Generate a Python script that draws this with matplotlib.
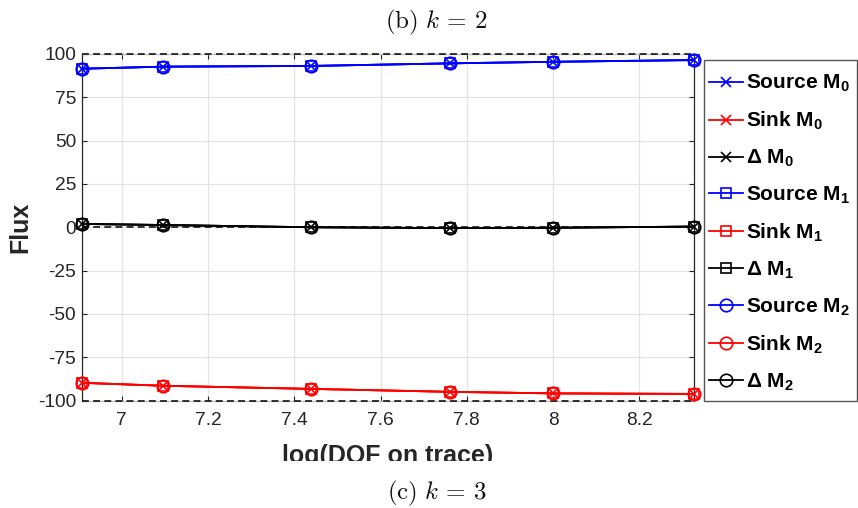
import matplotlib
matplotlib.use('Agg')
import matplotlib.pyplot as plt
from matplotlib.patches import Rectangle
from matplotlib.transforms import Bbox, TransformedBbox

# ---------------- data ----------------
log_dof = [6.9078, 7.0967, 7.4384, 7.7617, 8.0000, 8.3268]

source_m0 = [91.5, 92.7, 93.1, 94.6, 95.5, 96.5]
sink_m0 = [-89.8, -91.5, -93.3, -95.0, -95.9, -96.2]
delta_m0 = [1.9, 1.3, 0.0, -0.5, -0.3, 0.4]

source_m1 = [91.5, 92.7, 93.1, 94.6, 95.5, 96.5]
sink_m1 = [-89.8, -91.5, -93.3, -95.0, -95.9, -96.2]
delta_m1 = [1.9, 1.3, 0.0, -0.5, -0.3, 0.4]

source_m2 = [91.5, 92.7, 93.1, 94.6, 95.5, 96.5]
sink_m2 = [-89.8, -91.5, -93.3, -95.0, -95.9, -96.2]
delta_m2 = [1.9, 1.3, 0.0, -0.5, -0.3, 0.4]

ref_levels = [100, 0, -100]

x_ticks = [7.0, 7.2, 7.4, 7.6, 7.8, 8.0, 8.2]
x_tick_labels = ['7', '7.2', '7.4', '7.6', '7.8', '8', '8.2']
y_ticks = [-100, -75, -50, -25, 0, 25, 50, 75, 100]
y_tick_labels = ['-100', '-75', '-50', '-25', '0', '25', '50', '75', '100']

series_labels = [
    'Source M$_\\mathbf{0}$', 'Sink M$_\\mathbf{0}$', '\u0394 M$_\\mathbf{0}$',
    'Source M$_\\mathbf{1}$', 'Sink M$_\\mathbf{1}$', '\u0394 M$_\\mathbf{1}$',
    'Source M$_\\mathbf{2}$', 'Sink M$_\\mathbf{2}$', '\u0394 M$_\\mathbf{2}$',
]
title_text = r'$\mathrm{(b)}\ k\,=\,2$'
caption_text = r'$\mathrm{(c)}\ k\,=\,3$'
x_label = 'log(DOF on trace)'
y_label = 'Flux'

# ---------------- style ----------------
plt.rcParams['font.family'] = ['Liberation Sans', 'DejaVu Sans']
plt.rcParams['mathtext.fontset'] = 'custom'
plt.rcParams['mathtext.rm'] = 'Liberation Sans'
plt.rcParams['mathtext.bf'] = 'Liberation Sans:bold'
plt.rcParams['mathtext.it'] = 'Liberation Sans:italic'

W, H = 858, 508
fig = plt.figure(figsize=(W / 100, H / 100), dpi=100)
ax_l, ax_r, ax_t, ax_b = 82, 694, 54, 400.5
ax = fig.add_axes([ax_l / W, 1 - ax_b / H, (ax_r - ax_l) / W, (ax_b - ax_t) / H])

axis_col = '#262626'
colors = ['#0000ff', '#ff0000', '#000000']
markers = ['x', 's', 'o']
msizes = [7.5, 7.0, 9.0]

moments = [
    (source_m0, sink_m0, delta_m0),
    (source_m1, sink_m1, delta_m1),
    (source_m2, sink_m2, delta_m2),
]

# reference dashed lines
for lv in ref_levels:
    ax.axhline(lv, color='k', lw=1.1, ls=(0, (4.5, 2.8)), zorder=3, clip_on=False)

handles = []
for mi, series in enumerate(moments):
    for ci, vals in enumerate(series):
        ln, = ax.plot(log_dof, vals, color=colors[ci], lw=1.3,
                      marker=markers[mi], ms=msizes[mi], mfc='none',
                      mec=colors[ci], mew=1.2, zorder=4, clip_on=False)
        handles.append(ln)

ax.set_xlim(log_dof[0], log_dof[-1])
ax.set_ylim(-100, 100)
ax.set_xticks(x_ticks)
ax.set_xticklabels(x_tick_labels)
ax.set_yticks(y_ticks)
ax.set_yticklabels(y_tick_labels)
ax.grid(True, color='#e3e3e3', lw=0.9, zorder=0)
ax.set_axisbelow(True)

ax.tick_params(axis='both', direction='in', length=3.6, width=0.8,
               colors=axis_col, labelsize=13.8, top=True, right=True)
ax.tick_params(axis='x', pad=8.0)
ax.tick_params(axis='y', pad=4.3)
for s in ['left', 'right']:
    ax.spines[s].set_color(axis_col)
    ax.spines[s].set_linewidth(0.9)
for s in ['top', 'bottom']:
    ax.spines[s].set_color('#bdbdbd')
    ax.spines[s].set_linewidth(0.9)

# axis labels
fig.text(20 / W, 1 - 227 / H, y_label, rotation=90, ha='center', va='center',
         fontsize=18, fontweight='bold', color=axis_col)
xl = fig.text(388 / W, 1 - 463 / H, x_label, ha='center', va='baseline',
              fontsize=18, fontweight='bold', color=axis_col)
xl.set_clip_box(TransformedBbox(Bbox([[0, (H - 460.5) / H], [1, 1]]), fig.transFigure))
xl.set_clip_on(True)

# titles (sub-figure captions)
fig.text(436 / W, 1 - 22 / H, title_text, ha='center', va='center',
         fontsize=18, math_fontfamily='cm', color='#111111')
fig.text(437 / W, 1 - 493 / H, caption_text, ha='center', va='center',
         fontsize=18, math_fontfamily='cm', color='#111111')

# legend (frame drawn separately)
leg_l, leg_t, leg_r, leg_b = 704, 60, 857, 401
fig.patches.append(Rectangle((leg_l / W, 1 - leg_b / H), (leg_r - leg_l) / W,
                             (leg_b - leg_t) / H, transform=fig.transFigure,
                             facecolor='white', edgecolor='#555555', lw=1.0,
                             zorder=5))
leg = fig.legend(handles, series_labels, loc='upper left',
                 bbox_to_anchor=(709 / W, 1 - 73 / H), bbox_transform=fig.transFigure,
                 borderaxespad=0, frameon=False,
                 prop={'weight': 'bold', 'size': 15},
                 handlelength=1.65, handletextpad=0.15, borderpad=0,
                 labelspacing=0.75)
leg.set_zorder(6)

fig.savefig('out.png', dpi=100)
